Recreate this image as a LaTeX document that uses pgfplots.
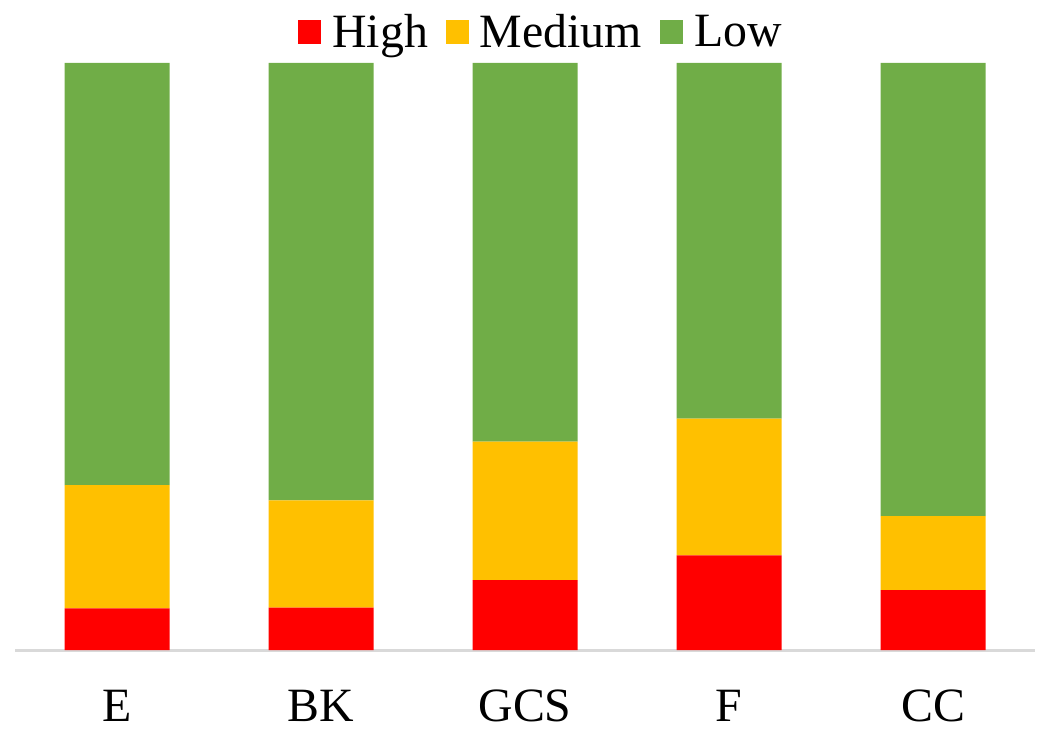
\documentclass[border=0pt]{standalone}
\usepackage{pgfplots}
\pgfplotsset{compat=1.18}
\usepackage{fontspec}
\setmainfont{Liberation Serif}
\definecolor{cHigh}{HTML}{FF0000}
\definecolor{cMed}{HTML}{FFC000}
\definecolor{cLow}{HTML}{70AD47}
\definecolor{cAxis}{HTML}{D9D9D9}
\begin{document}
\begin{tikzpicture}
\useasboundingbox (-7.5bp,-43.5bp) rectangle (517.5bp,325bp);
\begin{axis}[
  scale only axis,
  width=510bp, height=293.5bp,
  ybar stacked, bar width=52.5bp,
  xmin=-0.5, xmax=4.5, ymin=0, ymax=100,
  axis y line=none,
  axis x line*=bottom,
  x axis line style={draw=cAxis, line width=1.5bp, -},
  xtick=data,
  xticklabels={E,BK,GCS,F,CC},
  major tick length=0pt,
  xticklabel style={anchor=base, yshift=-35.5bp, font=\fontsize{24}{24}\selectfont},
  legend style={at={(rel axis cs:0.5167,1)}, anchor=center, yshift=15.5bp, draw=none, fill=none,
    legend columns=-1, font=\fontsize{24}{24}\selectfont,
    /tikz/every odd column/.append style={column sep=3.5bp},
    /tikz/every even column/.append style={column sep=7bp}},
  legend image code/.code={\fill[#1] (0bp,-6bp) rectangle (11.5bp,6bp);},
  clip=false,
]
\addplot[fill=cHigh, draw=none] coordinates {(0,7.1) (1,7.2) (2,11.9) (3,16.1) (4,10.2)};
\addplot[fill=cMed, draw=none] coordinates {(0,21.0) (1,18.3) (2,23.6) (3,23.3) (4,12.6)};
\addplot[fill=cLow, draw=none] coordinates {(0,71.9) (1,74.5) (2,64.5) (3,60.6) (4,77.2)};
\legend{High,Medium,Low}
\end{axis}
\end{tikzpicture}
\end{document}
